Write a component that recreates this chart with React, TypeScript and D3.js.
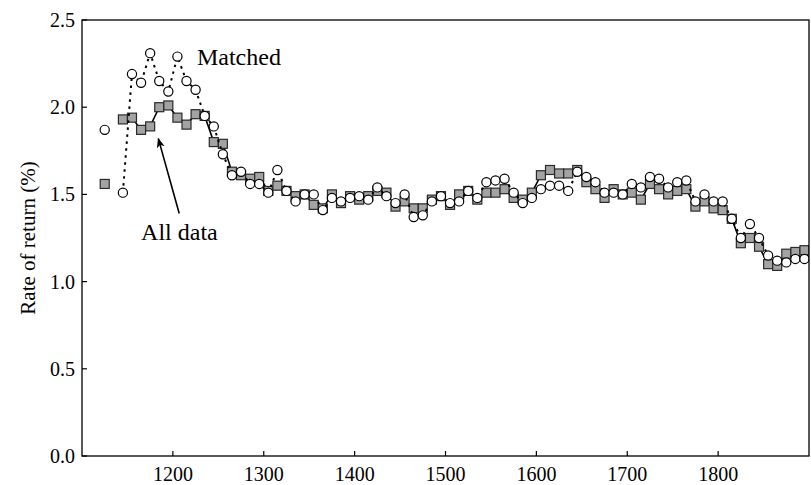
import React from "react";
import * as d3 from "d3";

const years = [1125, 1145, 1155, 1165, 1175, 1185, 1195, 1205, 1215, 1225, 1235, 1245, 1255, 1265, 1275, 1285, 1295, 1305, 1315, 1325, 1335, 1345, 1355, 1365, 1375, 1385, 1395, 1405, 1415, 1425, 1435, 1445, 1455, 1465, 1475, 1485, 1495, 1505, 1515, 1525, 1535, 1545, 1555, 1565, 1575, 1585, 1595, 1605, 1615, 1625, 1635, 1645, 1655, 1665, 1675, 1685, 1695, 1705, 1715, 1725, 1735, 1745, 1755, 1765, 1775, 1785, 1795, 1805, 1815, 1825, 1835, 1845, 1855, 1865, 1875, 1885, 1895];

const allData = [1.56, 1.93, 1.94, 1.87, 1.89, 2.0, 2.01, 1.94, 1.9, 1.96, 1.95, 1.8, 1.79, 1.63, 1.61, 1.59, 1.6, 1.52, 1.55, 1.52, 1.49, 1.5, 1.44, 1.42, 1.5, 1.45, 1.49, 1.47, 1.49, 1.52, 1.51, 1.43, 1.46, 1.42, 1.42, 1.47, 1.49, 1.44, 1.5, 1.52, 1.47, 1.51, 1.51, 1.53, 1.48, 1.47, 1.51, 1.61, 1.64, 1.62, 1.62, 1.64, 1.57, 1.53, 1.48, 1.53, 1.5, 1.51, 1.47, 1.56, 1.53, 1.5, 1.52, 1.53, 1.43, 1.46, 1.42, 1.41, 1.36, 1.22, 1.25, 1.2, 1.1, 1.09, 1.16, 1.17, 1.18];

const matched = [1.87, 1.51, 2.19, 2.14, 2.31, 2.15, 2.09, 2.29, 2.15, 2.1, 1.95, 1.89, 1.73, 1.61, 1.63, 1.56, 1.56, 1.51, 1.64, 1.52, 1.46, 1.5, 1.5, 1.41, 1.48, 1.46, 1.48, 1.49, 1.47, 1.54, 1.49, 1.45, 1.5, 1.37, 1.38, 1.46, 1.49, 1.45, 1.46, 1.52, 1.48, 1.57, 1.58, 1.59, 1.51, 1.45, 1.48, 1.53, 1.55, 1.55, 1.52, 1.63, 1.6, 1.57, 1.51, 1.51, 1.5, 1.56, 1.54, 1.6, 1.59, 1.54, 1.57, 1.58, 1.46, 1.5, 1.46, 1.46, 1.36, 1.25, 1.33, 1.25, 1.15, 1.12, 1.11, 1.13, 1.13];

const xTicks = [1200, 1300, 1400, 1500, 1600, 1700, 1800];
const yTicks = [0, 0.5, 1.0, 1.5, 2.0, 2.5];

const W = 811;
const H = 485;
const M = { left: 82, right: 2, top: 20, bottom: 29 };
const FONT = "'Liberation Serif', 'Times New Roman', serif";

type Pt = { yr: number; v: number };

export default function App() {
  const x = d3.scaleLinear().domain([1100, 1900]).range([M.left, W - M.right]);
  const y = d3.scaleLinear().domain([0, 2.5]).range([H - M.bottom, M.top]);

  const line = d3
    .line<Pt>()
    .x((d) => x(d.yr))
    .y((d) => y(d.v));

  // split into segments at data gaps (> 10 years)
  const segments = (vals: number[]) => {
    const pts: Pt[] = years.map((yr, i) => ({ yr, v: vals[i] }));
    const segs: Pt[][] = [];
    let cur: Pt[] = [];
    pts.forEach((p, i) => {
      if (i > 0 && p.yr - pts[i - 1].yr > 10) {
        segs.push(cur);
        cur = [];
      }
      cur.push(p);
    });
    segs.push(cur);
    return segs.filter((s) => s.length > 1);
  };

  const x0 = M.left;
  const x1 = W - M.right;
  const yTop = M.top;
  const yBot = H - M.bottom;
  const sq = 9;

  return (
    <svg width={W} height={H} style={{ position: "absolute", left: 0, top: 0, background: "#fff" }}>
      <defs>
        <clipPath id="plot">
          <rect x={x0} y={yTop} width={x1 - x0} height={yBot - yTop} />
        </clipPath>
        <marker id="arr" viewBox="0 0 10 10" refX="9" refY="5" markerWidth="10" markerHeight="10" orient="auto" markerUnits="userSpaceOnUse">
          <path d="M0,1 L10,5 L0,9 L2.5,5 Z" fill="#000" />
        </marker>
      </defs>

      <g clipPath="url(#plot)">
        {segments(allData).map((s, i) => (
          <path key={"a" + i} d={line(s) || ""} fill="none" stroke="#000" strokeWidth={1.6} />
        ))}
        {years.map((yr, i) => (
          <rect
            key={"s" + i}
            x={x(yr) - sq / 2}
            y={y(allData[i]) - sq / 2}
            width={sq}
            height={sq}
            fill="#a3a3a3"
            stroke="#2a2a2a"
            strokeWidth={1.2}
          />
        ))}
        {segments(matched).map((s, i) => (
          <path key={"m" + i} d={line(s) || ""} fill="none" stroke="#000" strokeWidth={2} strokeDasharray="2.5,4.5" />
        ))}
        {years.map((yr, i) => (
          <circle key={"c" + i} cx={x(yr)} cy={y(matched[i])} r={4.6} fill="#fff" stroke="#000" strokeWidth={1.2} />
        ))}
      </g>

      {/* frame */}
      <rect x={x0} y={yTop} width={x1 - x0} height={yBot - yTop} fill="none" stroke="#000" strokeWidth={1.3} />

      {/* x ticks */}
      {xTicks.map((t) => (
        <g key={"xt" + t}>
          <line x1={x(t)} x2={x(t)} y1={yBot} y2={yBot - 5} stroke="#000" strokeWidth={1.2} />
          <text x={x(t)} y={yBot + 25} textAnchor="middle" fontFamily={FONT} fontSize={20} fill="#000">
            {t}
          </text>
        </g>
      ))}

      {/* y ticks */}
      {yTicks.map((t) => (
        <g key={"yt" + t}>
          <line x1={x0} x2={x0 + 5} y1={y(t)} y2={y(t)} stroke="#000" strokeWidth={1.2} />
          <text x={x0 - 7} y={y(t)} dy="0.35em" textAnchor="end" fontFamily={FONT} fontSize={20} fill="#000">
            {d3.format(".1f")(t)}
          </text>
        </g>
      ))}

      <text
        transform={`translate(35,${(yTop + yBot) / 2}) rotate(-90)`}
        textAnchor="middle"
        fontFamily={FONT}
        fontSize={21}
        fill="#000"
      >
        Rate of return (%)
      </text>

      {/* annotations */}
      <text x={x(1126.5 + 100)} y={y(2.24)} fontFamily={FONT} fontSize={24} fill="#000">
        Matched
      </text>
      <text x={x(1165)} y={y(1.24)} fontFamily={FONT} fontSize={24} fill="#000">
        All data
      </text>
      <line x1={x(1207)} y1={y(1.39)} x2={x(1184)} y2={y(1.82)} stroke="#000" strokeWidth={1.6} markerEnd="url(#arr)" />
    </svg>
  );
}
